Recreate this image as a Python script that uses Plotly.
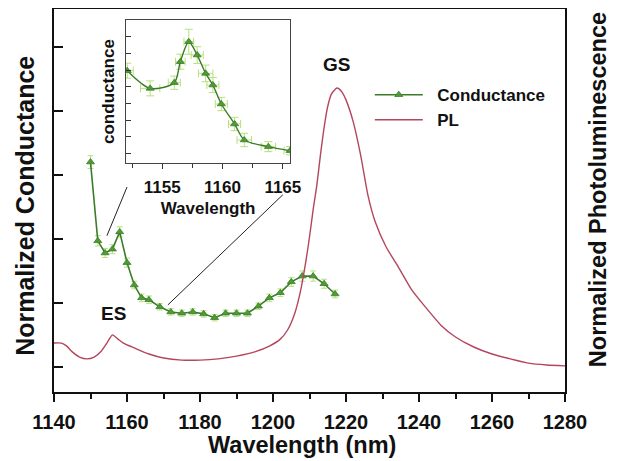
import plotly.graph_objects as go

# ---------------- data ----------------
pl_wavelength = [1140, 1142, 1143.5, 1145, 1147, 1149, 1151, 1153, 1154.5, 1156, 1157.5, 1159,
                 1162, 1166, 1170, 1175, 1180, 1185, 1190, 1195, 1199, 1202, 1204, 1206, 1207.5,
                 1209, 1210, 1211, 1212, 1213, 1214, 1215, 1216, 1217, 1217.5, 1218, 1219, 1220,
                 1222, 1224, 1226, 1228, 1231, 1234, 1238, 1242, 1246, 1250, 1255, 1260, 1265,
                 1270, 1275, 1280]
pl_values = [0.161, 0.161, 0.151, 0.132, 0.115, 0.109, 0.115, 0.135, 0.161, 0.188, 0.174, 0.161,
             0.145, 0.125, 0.112, 0.105, 0.105, 0.109, 0.118, 0.132, 0.151, 0.174, 0.204, 0.26,
             0.33, 0.43, 0.51, 0.60, 0.68, 0.78, 0.87, 0.94, 0.98, 0.995, 1.0, 0.998, 0.985, 0.961,
             0.888, 0.78, 0.648, 0.56, 0.477, 0.418, 0.336, 0.276, 0.22, 0.181, 0.148, 0.125,
             0.109, 0.095, 0.089, 0.086]

cond_wavelength = [1150, 1152, 1154, 1156, 1158, 1160, 1162, 1164, 1166, 1169, 1172, 1175, 1178,
                   1181, 1184, 1187, 1190, 1193, 1196, 1199, 1202, 1205, 1208, 1211, 1214, 1217]
cond_values = [4.20, 2.97, 2.78, 2.84, 3.11, 2.63, 2.28, 2.08, 2.05, 1.94, 1.86, 1.84, 1.86,
               1.83, 1.77, 1.84, 1.84, 1.84, 1.95, 2.08, 2.16, 2.33, 2.42, 2.42, 2.30, 2.14]
cond_errors = [0.10, 0.08, 0.07, 0.07, 0.08, 0.07, 0.06, 0.06, 0.06, 0.05, 0.05, 0.05, 0.05,
               0.05, 0.05, 0.05, 0.05, 0.05, 0.05, 0.06, 0.06, 0.07, 0.08, 0.08, 0.07, 0.06]

inset_wavelength = [1152.1, 1154.0, 1156.0, 1156.5, 1157.2, 1157.9, 1158.6, 1159.2, 1159.9,
                    1161.0, 1161.8, 1163.8, 1165.6]
inset_values = [5.96, 4.90, 5.24, 6.50, 7.70, 6.90, 5.80, 5.10, 3.96, 2.76, 1.80, 1.40, 1.16]
inset_yerr = [0.45, 0.45, 0.40, 0.45, 0.75, 0.50, 0.50, 0.45, 0.40, 0.40, 0.40, 0.30, 0.25]
inset_xerr = [0.5, 0.8, 0.5, 0.4, 0.4, 0.5, 0.6, 0.5, 0.5, 0.5, 0.6, 0.6, 0.5]

x_ticks = [1140, 1160, 1180, 1200, 1220, 1240, 1260, 1280]
inset_x_ticks = [1155, 1160, 1165]

# ---------------- styles ----------------
FONT = "Liberation Sans, Arial, sans-serif"
GREEN_LINE = "#3a7d28"
GREEN_FILL = "#4f9a35"
GREEN_ERR = "#b9e07c"
PL_COLOR = "#b4465c"
PAD = "\u00a0\u00a0"  # small gap between legend symbol and label

fig = go.Figure()

fig.add_trace(go.Scatter(
    x=cond_wavelength, y=cond_values, name=PAD + "Conductance", mode="lines+markers",
    line=dict(color=GREEN_LINE, width=1.6),
    marker=dict(symbol="triangle-up", size=7, color=GREEN_FILL,
                line=dict(color=GREEN_LINE, width=0.8)),
    error_y=dict(type="data", array=cond_errors, color=GREEN_ERR, thickness=1, width=3),
    xaxis="x", yaxis="y",
))
fig.add_trace(go.Scatter(
    x=pl_wavelength, y=pl_values, name=PAD + "PL", mode="lines",
    line=dict(color=PL_COLOR, width=1.4, shape="spline", smoothing=0.6),
    xaxis="x", yaxis="y2",
))
fig.add_trace(go.Scatter(
    x=inset_wavelength, y=inset_values, mode="lines+markers", showlegend=False,
    line=dict(color=GREEN_LINE, width=1.4, shape="spline", smoothing=0.8),
    marker=dict(symbol="triangle-up", size=7, color=GREEN_FILL,
                line=dict(color=GREEN_LINE, width=0.8)),
    error_y=dict(type="data", array=inset_yerr, color=GREEN_ERR, thickness=1, width=4),
    error_x=dict(type="data", array=inset_xerr, color=GREEN_ERR, thickness=1, width=4),
    xaxis="x3", yaxis="y3", cliponaxis=True,
))

tick_font = dict(family=FONT, size=20, color="#111", weight="bold")
inset_font = dict(family=FONT, size=17, color="#111", weight="bold")

fig.update_layout(
    width=611, height=453,
    margin=dict(l=46, r=54, t=1, b=69),
    paper_bgcolor="white", plot_bgcolor="white",
    showlegend=True,
    legend=dict(x=0.618, y=0.822, xanchor="left", yanchor="top", itemwidth=48,
                font=dict(family=FONT, size=17, color="#111", weight="bold"),
                bgcolor="rgba(0,0,0,0)", tracegroupgap=0),
    xaxis=dict(
        domain=[0, 1], range=[1140, 1280], tickmode="array", tickvals=x_ticks,
        ticks="outside", ticklen=8, tickwidth=1.5, tickcolor="#111", ticklabelstandoff=3,
        minor=dict(dtick=10, tick0=1140, ticklen=5, tickwidth=1.5, tickcolor="#111", ticks="outside"),
        showline=True, linecolor="#111", linewidth=1.5, mirror=True,
        showgrid=False, zeroline=False, tickfont=tick_font,
        automargin=False,
    ),
    yaxis=dict(
        range=[0.61, 6.59], tickmode="linear", tick0=1, dtick=1,
        ticks="inside", ticklen=9, tickwidth=1.5, tickcolor="#111",
        showticklabels=False, showline=True, linecolor="#111", linewidth=1.5,
        showgrid=False, zeroline=False, automargin=False,
    ),
    yaxis2=dict(
        range=[0, 1.26], overlaying="y", side="right", showticklabels=False,
        ticks="", showline=True, linecolor="#111", linewidth=1.5,
        showgrid=False, zeroline=False, automargin=False,
    ),
    xaxis3=dict(
        domain=[0.141, 0.462], anchor="y3", range=[1152, 1165.6],
        tickmode="array", tickvals=inset_x_ticks,
        ticks="outside", ticklen=5, tickwidth=1.2, tickcolor="#333", ticklabelstandoff=4,
        minor=dict(dtick=2.5, tick0=1152.5, ticklen=4, tickwidth=1.2, tickcolor="#333", ticks="outside"),
        showline=True, linecolor="#444", linewidth=1.2, mirror=True,
        showgrid=False, zeroline=False, tickfont=inset_font,
        title=dict(text="Wavelength", font=inset_font, standoff=5),
        automargin=False,
    ),
    yaxis3=dict(
        domain=[0.598, 0.971], anchor="x3", range=[0.42, 9.0],
        tickmode="linear", tick0=1, dtick=1,
        ticks="inside", ticklen=5, tickwidth=1.2, tickcolor="#333",
        showticklabels=False, showline=True, linecolor="#444", linewidth=1.2, mirror=True,
        showgrid=False, zeroline=False,
        title=dict(text="conductance", font=inset_font, standoff=5),
        automargin=False,
    ),
    annotations=[
        dict(x=1217.4, y=5.73, xref="x", yref="y", text="GS", showarrow=False,
             font=dict(family=FONT, size=19, color="#111", weight="bold")),
        dict(x=1156.4, y=1.83, xref="x", yref="y", text="ES", showarrow=False,
             font=dict(family=FONT, size=19, color="#111", weight="bold")),
        # axis titles
        dict(x=0.4853, y=-0.139, xref="paper", yref="paper", text="Wavelength (nm)",
             showarrow=False, xanchor="center", yanchor="middle",
             font=dict(family=FONT, size=23.5, color="#111", weight="bold")),
        dict(x=-0.0568, y=0.486, xref="paper", yref="paper", text="Normalized Conductance",
             showarrow=False, textangle=-90, xanchor="center", yanchor="middle",
             font=dict(family=FONT, size=25, color="#111", weight="bold")),
        dict(x=1.0646, y=0.527, xref="paper", yref="paper", text="Normalized Photoluminescence",
             showarrow=False, textangle=-90, xanchor="center", yanchor="middle",
             font=dict(family=FONT, size=23.5, color="#111", weight="bold")),
    ],
    shapes=[
        dict(type="line", xref="x", yref="y", x0=1160.0, y0=3.81, x1=1154.5, y1=3.05,
             line=dict(color="#222", width=1)),
        dict(type="line", xref="x", yref="y", x0=1202.7, y0=3.69, x1=1171.2, y1=1.97,
             line=dict(color="#222", width=1)),
        dict(type="rect", xref="x3 domain", yref="y3 domain", x0=0, y0=0, x1=1, y1=1,
             fillcolor="white", line=dict(width=0), layer="below"),
    ],
)

fig.write_html("out.html")
